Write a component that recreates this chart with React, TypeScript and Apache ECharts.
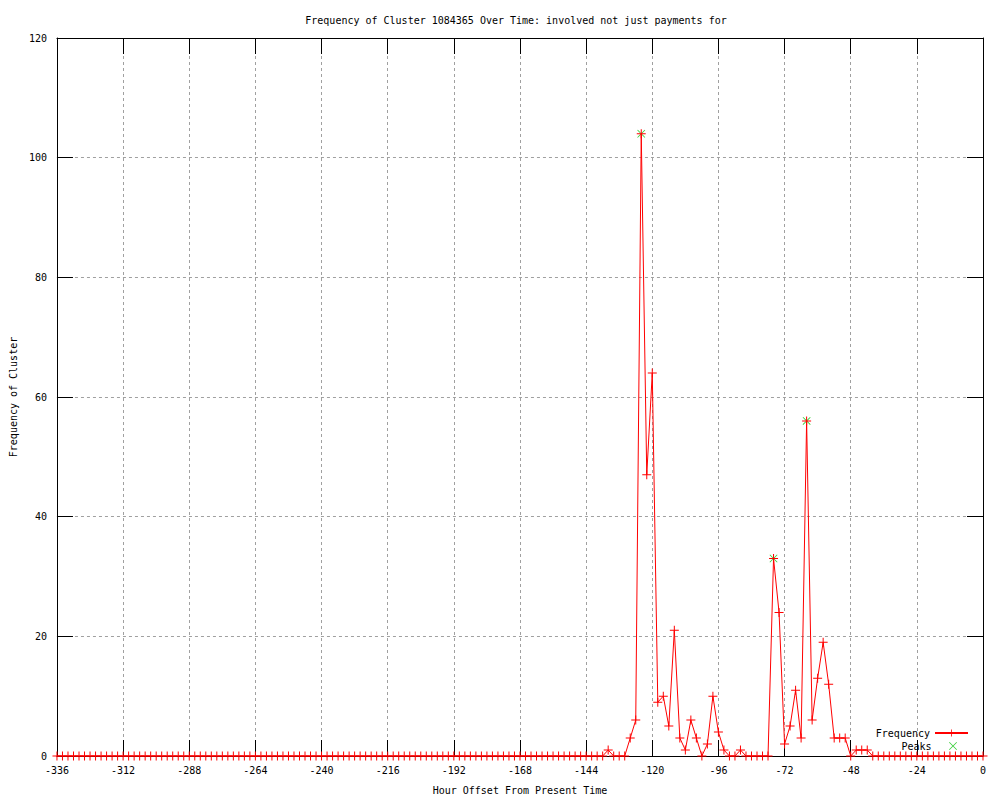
import React, { useEffect, useRef } from 'react';
import * as echarts from 'echarts';

const TITLE = 'Frequency of Cluster 1084365 Over Time: involved not just payments for';
const X_NAME = 'Hour Offset From Present Time';
const Y_NAME = 'Frequency of Cluster';
const SERIES_FREQ = 'Frequency';
const SERIES_PEAKS = 'Peaks';

const hours = [
  -336, -334, -332, -330, -328, -326, -324, -322, -320, -318,
  -316, -314, -312, -310, -308, -306, -304, -302, -300, -298,
  -296, -294, -292, -290, -288, -286, -284, -282, -280, -278,
  -276, -274, -272, -270, -268, -266, -264, -262, -260, -258,
  -256, -254, -252, -250, -248, -246, -244, -242, -240, -238,
  -236, -234, -232, -230, -228, -226, -224, -222, -220, -218,
  -216, -214, -212, -210, -208, -206, -204, -202, -200, -198,
  -196, -194, -192, -190, -188, -186, -184, -182, -180, -178,
  -176, -174, -172, -170, -168, -166, -164, -162, -160, -158,
  -156, -154, -152, -150, -148, -146, -144, -142, -140, -138,
  -136, -134, -132, -130, -128, -126, -124, -122, -120, -118,
  -116, -114, -112, -110, -108, -106, -104, -102, -100, -98,
  -96, -94, -92, -90, -88, -86, -84, -82, -80, -78,
  -76, -74, -72, -70, -68, -66, -64, -62, -60, -58,
  -56, -54, -52, -50, -48, -46, -44, -42, -40, -38,
  -36, -34, -32, -30, -28, -26, -24, -22, -20, -18,
  -16, -14, -12, -10, -8, -6, -4, -2, 0,
];

const frequency = [
  0, 0, 0, 0, 0, 0, 0, 0, 0, 0,
  0, 0, 0, 0, 0, 0, 0, 0, 0, 0,
  0, 0, 0, 0, 0, 0, 0, 0, 0, 0,
  0, 0, 0, 0, 0, 0, 0, 0, 0, 0,
  0, 0, 0, 0, 0, 0, 0, 0, 0, 0,
  0, 0, 0, 0, 0, 0, 0, 0, 0, 0,
  0, 0, 0, 0, 0, 0, 0, 0, 0, 0,
  0, 0, 0, 0, 0, 0, 0, 0, 0, 0,
  0, 0, 0, 0, 0, 0, 0, 0, 0, 0,
  0, 0, 0, 0, 0, 0, 0, 0, 0, 0,
  1, 0, 0, 0, 3, 6, 104, 47, 64, 9,
  10, 5, 21, 3, 1, 6, 3, 0, 2, 10,
  4, 1, 0, 0, 1, 0, 0, 0, 0, 0,
  33, 24, 2, 5, 11, 3, 56, 6, 13, 19,
  12, 3, 3, 3, 0, 1, 1, 1, 0, 0,
  0, 0, 0, 0, 0, 0, 0, 0, 0, 0,
  0, 0, 0, 0, 0, 0, 0, 0, 0,
];

const peakHours = [-124, -76, -64];
const peakValues = [104, 33, 56];

const X_MIN = -336;
const X_MAX = 0;
const X_STEP = 24;
const Y_MIN = 0;
const Y_MAX = 120;
const Y_STEP = 20;

const FONT = 'DejaVu Sans Mono';
const PLUS = 'path://M4,0H5V4H9V5H5V9H4V5H0V4H4Z';
const CROSS = 'path://M0,0.7L0.7,0L5,4.3L9.3,0L10,0.7L5.7,5L10,9.3L9.3,10L5,5.7L0.7,10L0,9.3L4.3,5Z';

export default function App() {
  const ref = useRef<HTMLDivElement>(null);

  useEffect(() => {
    if (!ref.current) return;
    const chart = echarts.init(ref.current, undefined, { renderer: 'svg' });

    const textStyle = { fontFamily: FONT, fontSize: 10, color: '#000' };
    const gridLine = { show: true, lineStyle: { color: '#a0a0a0', type: [3, 3] as any, width: 1 } };
    const axisLine = { show: true, onZero: false, lineStyle: { color: '#000', width: 1 } };
    const tick = { show: true, inside: true, length: 16, lineStyle: { color: '#000', width: 1 } };

    chart.setOption({
      animation: false,
      backgroundColor: '#fff',
      textStyle: { fontFamily: FONT },
      title: {
        text: TITLE,
        left: 511,
        top: 10,
        textAlign: 'center',
        textStyle: { ...textStyle, fontWeight: 'normal' },
      },
      grid: { left: 55, right: 17, top: 38, bottom: 40, containLabel: false },
      legend: [
        {
          data: [SERIES_FREQ],
          orient: 'vertical',
          right: 31,
          top: 728,
          align: 'right',
          padding: 0,
          itemWidth: 33,
          itemHeight: 9,
          textStyle,
        },
        {
          data: [SERIES_PEAKS],
          orient: 'vertical',
          right: 43,
          top: 741,
          align: 'right',
          padding: 0,
          itemWidth: 33,
          itemHeight: 8,
          textStyle,
        },
      ],
      xAxis: [
        {
          type: 'value',
          min: X_MIN,
          max: X_MAX,
          interval: X_STEP,
          position: 'bottom',
          name: X_NAME,
          nameLocation: 'middle',
          nameGap: 29,
          nameTextStyle: textStyle,
          axisLine,
          axisTick: tick,
          axisLabel: { ...textStyle, margin: 9 },
          splitLine: gridLine,
        },
        {
          type: 'value',
          min: X_MIN,
          max: X_MAX,
          interval: X_STEP,
          position: 'top',
          axisLine,
          axisTick: tick,
          axisLabel: { show: false },
          splitLine: { show: false },
        },
      ],
      yAxis: [
        {
          type: 'value',
          min: Y_MIN,
          max: Y_MAX,
          interval: Y_STEP,
          position: 'left',
          name: Y_NAME,
          nameLocation: 'middle',
          nameGap: 37,
          nameRotate: 90,
          nameTextStyle: textStyle,
          axisLine,
          axisTick: tick,
          axisLabel: { ...textStyle, margin: 10 },
          splitLine: gridLine,
        },
        {
          type: 'value',
          min: Y_MIN,
          max: Y_MAX,
          interval: Y_STEP,
          position: 'right',
          axisLine,
          axisTick: tick,
          axisLabel: { show: false },
          splitLine: { show: false },
        },
      ],
      series: [
        {
          name: SERIES_FREQ,
          type: 'line',
          xAxisIndex: 0,
          yAxisIndex: 0,
          data: hours.map((h, i) => [h, frequency[i]]),
          symbol: PLUS,
          symbolSize: 9,
          showAllSymbol: true,
          lineStyle: { color: '#ff0000', width: 1 },
          itemStyle: { color: '#ff0000' },
          emphasis: { disabled: true },
        },
        {
          name: SERIES_PEAKS,
          type: 'scatter',
          xAxisIndex: 0,
          yAxisIndex: 0,
          data: peakHours.map((h, i) => [h, peakValues[i]]),
          symbol: CROSS,
          symbolSize: 8,
          itemStyle: { color: '#00c000' },
          emphasis: { disabled: true },
        },
      ],
    });

    return () => chart.dispose();
  }, []);

  return (
    <div
      ref={ref}
      style={{ position: 'fixed', left: 0, top: 0, width: 1000, height: 800, background: '#fff' }}
    />
  );
}
